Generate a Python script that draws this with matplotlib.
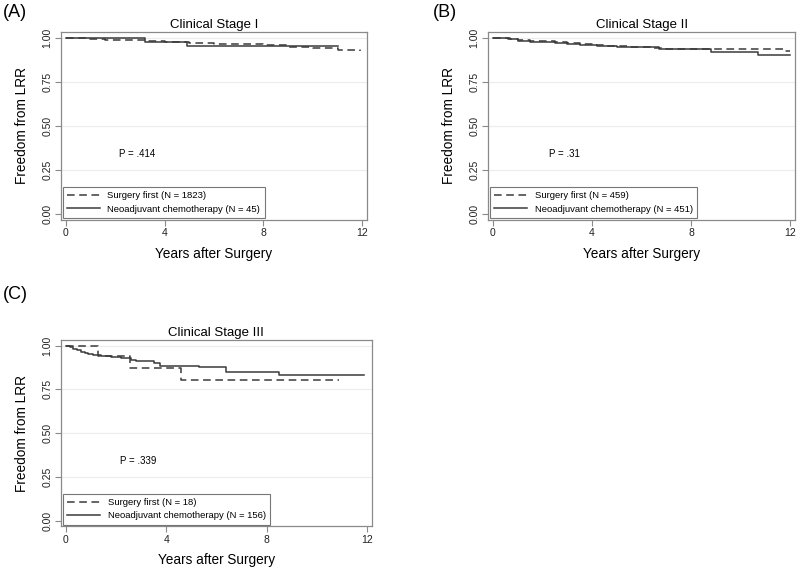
import matplotlib
matplotlib.use("Agg")
import matplotlib.pyplot as plt

plt.rcParams['font.family'] = ['Liberation Sans', 'DejaVu Sans']

# Kaplan-Meier style step data
sf1_t = [0, 0.8, 1.6, 2.4, 3.2, 4.0, 5.0, 6.0, 7.0, 8.0, 9.0, 10.0, 11.0, 11.9]
sf1_s = [1.0, 0.995, 0.99, 0.987, 0.983, 0.978, 0.972, 0.968, 0.963, 0.958, 0.950, 0.943, 0.933, 0.927]
neo1_t = [0, 3.2, 4.9, 11.0]
neo1_s = [1.0, 0.977, 0.953, 0.953]

sf2_t = [0, 0.7, 1.0, 1.5, 2.0, 2.5, 3.0, 3.5, 4.0, 4.5, 5.0, 5.5, 6.0, 6.5, 7.0, 8.0, 8.7, 11.8, 12.0]
sf2_s = [1.0, 0.995, 0.99, 0.985, 0.98, 0.975, 0.97, 0.965, 0.96, 0.957, 0.953, 0.95, 0.948, 0.945,
         0.94, 0.938, 0.936, 0.928, 0.928]
neo2_t = [0, 0.6, 1.0, 1.5, 2.0, 2.5, 3.0, 3.5, 4.2, 5.0, 5.6, 6.7, 8.8, 10.7, 12.0]
neo2_s = [1.0, 0.993, 0.985, 0.979, 0.975, 0.97, 0.965, 0.96, 0.955, 0.95, 0.946, 0.936, 0.92, 0.903, 0.903]

sf3_t = [0, 1.28, 2.56, 4.6, 10.9]
sf3_s = [1.0, 0.94, 0.873, 0.805, 0.805]
neo3_t = [0, 0.15, 0.3, 0.45, 0.6, 0.75, 0.9, 1.1, 1.4, 1.8, 2.2, 2.6, 2.8, 3.5, 3.75, 5.3, 6.4, 8.5, 11.9]
neo3_s = [1.0, 0.99, 0.98, 0.973, 0.966, 0.96, 0.953, 0.946, 0.94, 0.935, 0.93, 0.92, 0.912, 0.9,
          0.886, 0.877, 0.852, 0.834, 0.834]

titles = ['Clinical Stage I', 'Clinical Stage II', 'Clinical Stage III']
panel_labels = ['(A)', '(B)', '(C)']
n_surgery = [1823, 459, 18]
n_neo = [45, 451, 156]
p_values = ['P = .414', 'P = .31', 'P = .339']

x_ticks = [0, 4, 8, 12]
y_ticks = [0.0, 0.25, 0.5, 0.75, 1.0]

line_col = '#3a3a3a'
frame_col = '#8a8a8a'

fig = plt.figure(figsize=(8, 5.71), dpi=100)
fig.patch.set_facecolor('white')

axes_pos = [
    [0.076, 0.615, 0.383, 0.329],
    [0.610, 0.615, 0.384, 0.329],
    [0.076, 0.078, 0.389, 0.327],
]
label_pos = [(0.003, 0.978), (0.541, 0.978), (0.003, 0.485)]

curves = [(sf1_t, sf1_s, neo1_t, neo1_s),
          (sf2_t, sf2_s, neo2_t, neo2_s),
          (sf3_t, sf3_s, neo3_t, neo3_s)]

for i, (sf_t, sf_s, neo_t, neo_s) in enumerate(curves):
    ax = fig.add_axes(axes_pos[i])
    for y in y_ticks[1:]:
        ax.axhline(y, color='#ececec', lw=0.8, zorder=0)
    ax.step(sf_t, sf_s, where='post', color=line_col, lw=1.1, ls=(0, (5, 3)),
            label='Surgery first (N = {})'.format(n_surgery[i]))
    ax.step(neo_t, neo_s, where='post', color=line_col, lw=1.1,
            label='Neoadjuvant chemotherapy (N = {})'.format(n_neo[i]))

    ax.set_xlim(-0.2, 12.2)
    ax.set_ylim(-0.034, 1.034)
    ax.set_xticks(x_ticks)
    ax.set_yticks(y_ticks)
    ax.set_yticklabels(['{:.2f}'.format(v) for v in y_ticks], rotation=90, va='center')
    ax.tick_params(labelsize=7.5, color=frame_col, length=4, width=0.8, pad=2,
                   labelcolor='#222222')
    for sp in ax.spines.values():
        sp.set_color(frame_col)
        sp.set_linewidth(0.9)

    ax.set_title(titles[i], fontsize=9.5, pad=3)
    ax.set_xlabel('Years after Surgery', fontsize=9.8, labelpad=6)
    ax.set_ylabel('Freedom from LRR', fontsize=9.8, labelpad=10)
    ax.text(2.9, 0.34, p_values[i], fontsize=7, ha='center', va='center')

    leg = ax.legend(loc='lower left', bbox_to_anchor=(0.006, 0.01), fontsize=6.8,
                    handlelength=3.5, frameon=True, fancybox=False,
                    edgecolor='#555555', borderpad=0.45, labelspacing=0.45,
                    handletextpad=0.8, borderaxespad=0)
    leg.get_frame().set_linewidth(0.8)

    fig.text(label_pos[i][0], label_pos[i][1], panel_labels[i], fontsize=13, va='center', ha='left')

fig.savefig('out.png', dpi=100, facecolor='white')
